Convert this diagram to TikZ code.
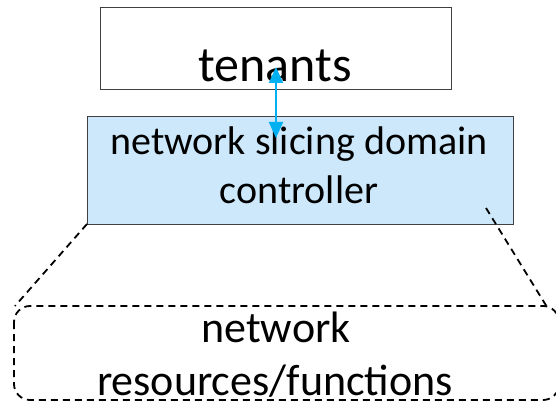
\documentclass[tikz,border=0pt]{standalone}
\usepackage{fontspec}
\setmainfont{Carlito}
\usetikzlibrary{arrows.meta}
\definecolor{ctrlfill}{HTML}{CCE8FA}
\definecolor{arrowblue}{HTML}{00B0F0}
\definecolor{boxline}{HTML}{404040}
\tikzset{
  solidbox/.style={draw=boxline, line width=0.9pt},
  dashline/.style={draw=black, line width=1.8pt, dash pattern=on 7pt off 5pt},
  lbl/.style={anchor=base, inner sep=0pt, text=black},
  tipstyle/.style={Triangle[length=16pt,width=14pt]},
}
\begin{document}
\begin{tikzpicture}[x=1pt,y=-1pt]
\useasboundingbox (0,0) rectangle (556,406);
% boxes
\draw[solidbox] (100,7) rectangle (451,89);
\draw[solidbox, fill=ctrlfill] (87,116) rectangle (513,224);
\draw[dashline, rounded corners=16pt] (14,306) rectangle (559,400);
% corner coordinates
\coordinate (cbl) at (87,224);
\coordinate (cin) at (486,208);
\coordinate (rtl) at (15,306);
\coordinate (rtr) at (547,307);
\draw[dashline] (cbl) -- (rtl);
\draw[dashline] (cin) -- (rtr);
% labels
\node[lbl, font=\fontsize{50}{60}\selectfont] (ten) at (275,82) {tenants};
\node[lbl, font=\fontsize{40}{48}\selectfont] (ctrlA) at (299,155) {network slicing domain};
\node[lbl, font=\fontsize{40}{48}\selectfont] (ctrlB) at (299,203) {controller};
\node[lbl, font=\fontsize{44}{53}\selectfont] (resA) at (276,342) {network};
\node[lbl, font=\fontsize{44}{53}\selectfont] (resB) at (275,395) {resources/functions};
% arrow
\coordinate (atop) at (276,67);
\coordinate (abot) at (276,138);
\draw[arrowblue, line width=2pt, {Triangle[length=16pt,width=14pt]}-{Triangle[length=16pt,width=14pt]}] (atop) -- (abot);
\end{tikzpicture}
\end{document}
